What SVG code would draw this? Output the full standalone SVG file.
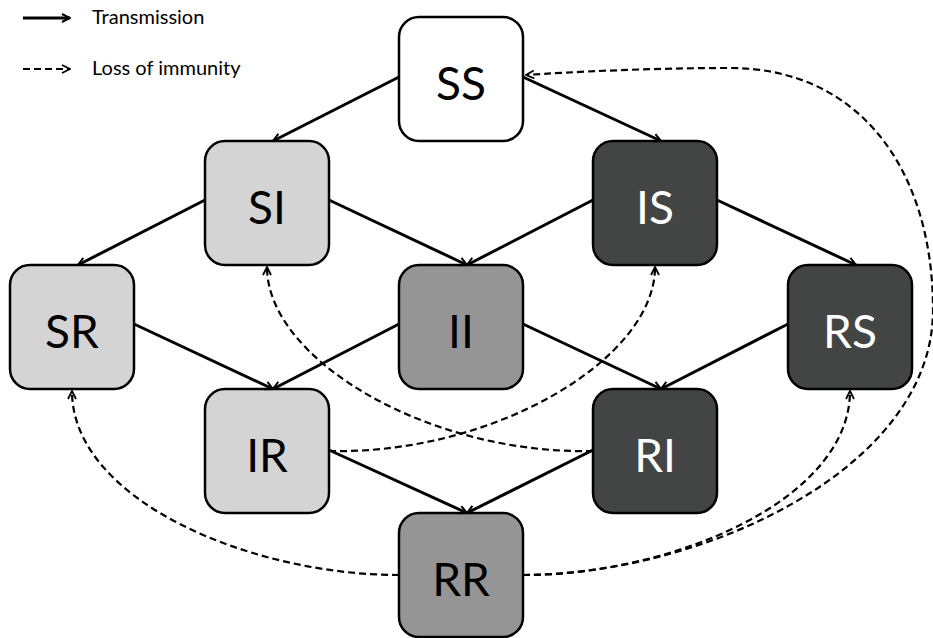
<svg xmlns="http://www.w3.org/2000/svg" width="933" height="638" viewBox="0 0 933 638">
<defs>
<style>
.box{stroke:#000;stroke-width:2.5}
.white{fill:#ffffff}
.light{fill:#d4d4d4}
.mid{fill:#959595}
.dark{fill:#434545}
.lbl{font-family:"Lato","Open Sans","DejaVu Sans",sans-serif;font-size:46px;text-anchor:middle;dominant-baseline:central}
.lbl-d{fill:#000}
.lbl-l{fill:#fff}
.tr{fill:none;stroke:#000;stroke-width:3;marker-end:url(#ah)}
.lo{fill:none;stroke:#000;stroke-width:2.2;stroke-dasharray:7 4;marker-end:url(#ahd)}
.leg{font-family:"Lato","Open Sans","DejaVu Sans",sans-serif;font-size:20px;fill:#000}
</style>
<marker id="ah" viewBox="0 0 10 10" refX="9" refY="5" markerWidth="10" markerHeight="10" markerUnits="userSpaceOnUse" orient="auto">
<path d="M1,1 L9,5 L1,9" fill="none" stroke="#000" stroke-width="2"/>
</marker>
<marker id="ahd" viewBox="0 0 10 10" refX="9" refY="5" markerWidth="10" markerHeight="10" markerUnits="userSpaceOnUse" orient="auto">
<path d="M1,1 L9,5 L1,9" fill="none" stroke="#000" stroke-width="1.8"/>
</marker>
</defs>
<rect width="933" height="638" fill="#fff"/>

<g id="legend">
<line class="tr" x1="23" y1="18" x2="70" y2="18"/>
<text class="leg" x="92" y="24">Transmission</text>
<line class="lo" x1="23" y1="69" x2="70" y2="69"/>
<text class="leg" x="92" y="75">Loss of immunity</text>
</g>

<g id="node-SS"><rect class="box white" x="399" y="17" width="124" height="124" rx="20"/><text class="lbl lbl-d" x="461" y="82">SS</text></g>
<g id="node-SI"><rect class="box light" x="205" y="141" width="124" height="124" rx="20"/><text class="lbl lbl-d" x="267" y="206">SI</text></g>
<g id="node-IS"><rect class="box dark" x="593" y="141" width="124" height="124" rx="20"/><text class="lbl lbl-l" x="655" y="206">IS</text></g>
<g id="node-SR"><rect class="box light" x="10" y="265" width="124" height="124" rx="20"/><text class="lbl lbl-d" x="72" y="330">SR</text></g>
<g id="node-II"><rect class="box mid" x="399" y="265" width="124" height="124" rx="20"/><text class="lbl lbl-d" x="461" y="330">II</text></g>
<g id="node-RS"><rect class="box dark" x="788" y="265" width="124" height="124" rx="20"/><text class="lbl lbl-l" x="850" y="330">RS</text></g>
<g id="node-IR"><rect class="box light" x="205" y="389" width="124" height="124" rx="20"/><text class="lbl lbl-d" x="267" y="454">IR</text></g>
<g id="node-RI"><rect class="box dark" x="593" y="389" width="124" height="124" rx="20"/><text class="lbl lbl-l" x="655" y="454">RI</text></g>
<g id="node-RR"><rect class="box mid" x="399" y="513" width="124" height="124" rx="20"/><text class="lbl lbl-d" x="461" y="578">RR</text></g>

<g id="connectors">
<line class="tr" x1="399" y1="77" x2="273" y2="141"/>
<line class="tr" x1="523" y1="77" x2="661" y2="141"/>
<line class="tr" x1="205" y1="200" x2="78" y2="265"/>
<line class="tr" x1="329" y1="200" x2="467" y2="265"/>
<line class="tr" x1="593" y1="200" x2="467" y2="265"/>
<line class="tr" x1="717" y1="200" x2="856" y2="265"/>
<line class="tr" x1="134" y1="324" x2="273" y2="389"/>
<line class="tr" x1="399" y1="324" x2="273" y2="389"/>
<line class="tr" x1="523" y1="324" x2="661" y2="389"/>
<line class="tr" x1="788" y1="324" x2="661" y2="389"/>
<line class="tr" x1="329" y1="450" x2="467" y2="513"/>
<line class="tr" x1="593" y1="450" x2="467" y2="513"/>

<path class="lo" d="M593,451 C430,455 267,360 267,267"/>
<path class="lo" d="M329,451 C492,455 655,360 655,267"/>
<path class="lo" d="M399,575 C250,575 72,500 72,391"/>
<path class="lo" d="M523,575 C672,575 850,500 850,391"/>
<path class="lo" d="M523,575 C700,575 933,470 933,310 C933,170 860,68 730,68 C650,68 570,72 526,75"/>
</g>
</svg>
